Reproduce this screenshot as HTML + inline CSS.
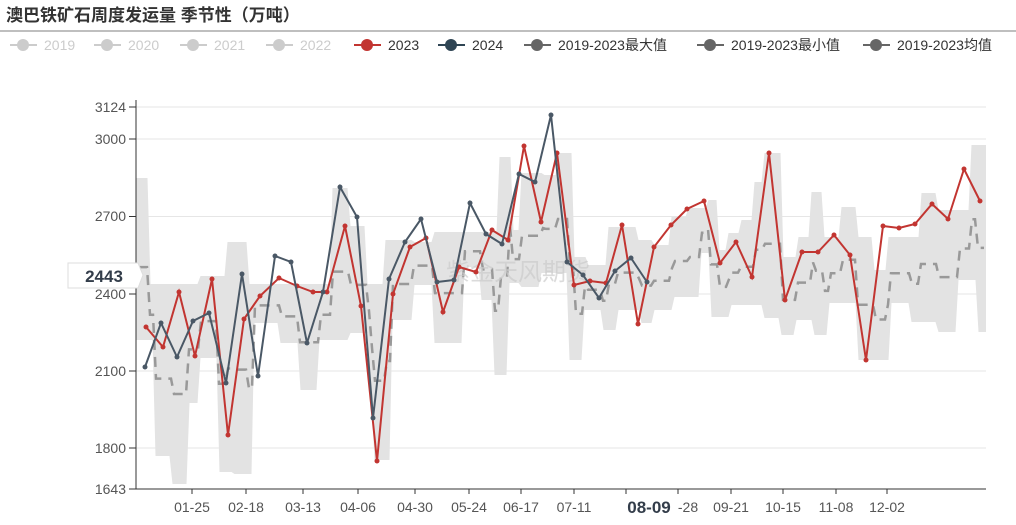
<!DOCTYPE html><html><head><meta charset="utf-8"><style>
body{margin:0;width:1016px;height:520px;background:#fff;overflow:hidden;font-family:"Liberation Sans","Noto Sans CJK SC",sans-serif}
</style></head><body>
<svg id="s" width="1016" height="520" xmlns="http://www.w3.org/2000/svg" font-family="Liberation Sans, Noto Sans CJK SC, sans-serif">
<text x="6" y="21" font-size="17" font-weight="bold" fill="#333">澳巴铁矿石周度发运量 季节性（万吨）</text>
<line x1="0" y1="31" x2="1016" y2="31" stroke="#aaa" stroke-width="1.5"/>
<g id="leg" font-size="14"></g>
<g stroke="#e6e6e6" stroke-width="1">
<line x1="136" y1="107" x2="986" y2="107"/><line x1="136" y1="139" x2="986" y2="139"/><line x1="136" y1="216.5" x2="986" y2="216.5"/><line x1="136" y1="294" x2="986" y2="294"/><line x1="136" y1="371" x2="986" y2="371"/><line x1="136" y1="448" x2="986" y2="448"/>
</g>
<g id="band"></g>
<g font-size="14" fill="#555" text-anchor="end">
<text x="126" y="112">3124</text><text x="126" y="144">3000</text><text x="126" y="221">2700</text><text x="126" y="299">2400</text><text x="126" y="376">2100</text><text x="126" y="453">1800</text><text x="126" y="494">1643</text>
</g>
<text x="518" y="280" font-size="24" fill="#ccc" opacity="0.7" text-anchor="middle">紫金天风期货</text>
<line x1="136" y1="100" x2="136" y2="489" stroke="#333"/>
<line x1="129" y1="107" x2="136" y2="107" stroke="#333"/><line x1="129" y1="139" x2="136" y2="139" stroke="#333"/><line x1="129" y1="216.5" x2="136" y2="216.5" stroke="#333"/><line x1="129" y1="294" x2="136" y2="294" stroke="#333"/><line x1="129" y1="371" x2="136" y2="371" stroke="#333"/><line x1="129" y1="448" x2="136" y2="448" stroke="#333"/><line x1="129" y1="489" x2="136" y2="489" stroke="#333"/>
<line x1="136" y1="489" x2="986" y2="489" stroke="#333"/>
<g id="xt" font-size="14" fill="#555" text-anchor="middle"></g>
<g id="lines"></g>
<path d="M68 263 H138 L143 275 L138 288 H68 Z" fill="#fff" stroke="#ddd"/>
<text x="104" y="282" font-size="17" font-weight="bold" fill="#333d4a" text-anchor="middle">2443</text>
</svg>
<script>
var NS="http://www.w3.org/2000/svg";
function el(p,t,a,tx){var e=document.createElementNS(NS,t);for(var k in a)e.setAttribute(k,a[k]);if(tx)e.textContent=tx;document.getElementById(p).appendChild(e);return e;}
var L=[["2019","#ccc"],["2020","#ccc"],["2021","#ccc"],["2022","#ccc"],["2023","#c23531"],["2024","#2f4554"],["2019-2023最大值","#666"],["2019-2023最小值","#666"],["2019-2023均值","#666"]];
var cx=[23,107,193,279,367,451,537,710,876];
for(var i=0;i<L.length;i++){var c=L[i][1];
el("leg","line",{x1:cx[i]-13,y1:45,x2:cx[i]+14,y2:45,stroke:c,"stroke-width":2});
el("leg","circle",{cx:cx[i],cy:45,r:6,fill:c});
el("leg","text",{x:cx[i]+21,y:50,fill:i<4?"#ccc":"#333"},L[i][0]);}
var T=[[192,"01-25"],[246,"02-18"],[303,"03-13"],[358,"04-06"],[415,"04-30"],[469,"05-24"],[521,"06-17"],[574,"07-11"],[626,"08-09"],[678,"-28"],[731,"09-21"],[783,"10-15"],[836,"11-08"],[887,"12-02"]];
T.forEach(function(t){el("xt","line",{x1:t[0],y1:489,x2:t[0],y2:494,stroke:"#333"});
var a={x:t[0]+(t[1]=="-28"?10:0),y:512};if(t[1]=="08-09"){a["font-size"]=17;a["font-weight"]="bold";a.fill="#333d4a";a.x=649;a.y=513}
el("xt","text",a,t[1]);});
var U=[[149,178],[199,284],[226,276],[248,242],[331,284],[349,188],[366,226],[384,284],[413,240],[433,242],[478,232],[498,232],[512,157],[520,230],[543,173],[557,175],[573,153],[587,257],[607,265],[637,227],[653,240],[670,245],[687,217],[707,208],[718,200],[727,250],[740,233],[753,220],[763,182],[782,153],[797,257],[810,237],[823,192],[840,237],[857,207],[873,237],[887,270],[920,237],[937,193],[953,210],[970,210],[986,145]];
var D=[[154,340],[171,456],[188,484],[199,403],[218,358],[233,472],[253,474],[266,323],[279,323],[299,343],[318,390],[329,340],[349,340],[369,333],[373,400],[391,460],[413,320],[433,285],[463,343],[480,267],[493,300],[508,375],[520,283],[540,287],[568,273],[583,360],[602,310],[617,330],[640,310],[653,323],[673,310],[700,297],[710,253],[730,317],[747,305],[763,305],[780,318],[795,335],[813,320],[828,335],[843,303],[857,303],[890,360],[910,303],[937,322],[957,332],[977,280],[986,332]];
function pts(A){var r=[],x=136;A.forEach(function(p,i){r.push([i?x+1.5:x,p[1]]);r.push([p[0]-1.5,p[1]]);x=p[0];});r[r.length-1][0]=986;return r;}
var up=pts(U),dn=pts(D);
var d="M"+up.map(function(p){return p[0]+" "+p[1]}).join(" L");
d+=" L"+dn.slice().reverse().map(function(p){return p[0]+" "+p[1]}).join(" L")+"Z";
el("band","path",{d:d,fill:"#e3e3e3"});
function at(A,x){for(var i=0;i<A.length;i++)if(x<=A[i][0])return A[i][1];return A[A.length-1][1];}
var m="";for(var x=138;x<=986;x+=3){var y=at(U,x)*0.45+at(D,x)*0.55;m+=(m?" L":"M")+x+" "+y.toFixed(1);}
el("band","path",{d:m,fill:"none",stroke:"#999","stroke-width":2.5,"stroke-dasharray":"10,7"});
function ser(P,c){var s="";P.forEach(function(p,i){s+=(i?" L":"M")+p[0]+" "+p[1];});
el("lines","path",{d:s,fill:"none",stroke:c,"stroke-width":2});
P.forEach(function(p){el("lines","circle",{cx:p[0],cy:p[1],r:2.5,fill:c});});}
ser([[146,327],[163,347],[179,292],[195,356],[212,279],[228,435],[244,319],[260,296],[279,278],[297,286],[313,292],[327,292],[345,226],[361,306],[377,461],[393,294],[410,247],[426,238],[443,312],[459,267],[476,272],[492,230],[508,240],[524,146],[541,222],[557,153],[574,285],[590,281],[606,283],[622,225],[638,324],[654,247],[671,225],[687,209],[704,201],[720,263],[736,242],[752,277],[769,153],[785,300],[802,252],[818,252],[834,235],[850,255],[866,360],[883,226],[899,228],[915,224],[932,204],[948,219],[964,169],[980,201]],"#c23531");
ser([[145,367],[161,323],[177,357],[193,321],[209,313],[226,383],[242,274],[258,376],[275,256],[291,262],[307,343],[323,292],[340,187],[357,217],[373,418],[389,279],[405,242],[421,219],[437,282],[454,280],[470,203],[486,234],[502,244],[519,174],[535,182],[551,115],[567,262],[583,275],[599,298],[615,271],[631,258],[647,282]],"#4a5866");
</script>
</body></html>
